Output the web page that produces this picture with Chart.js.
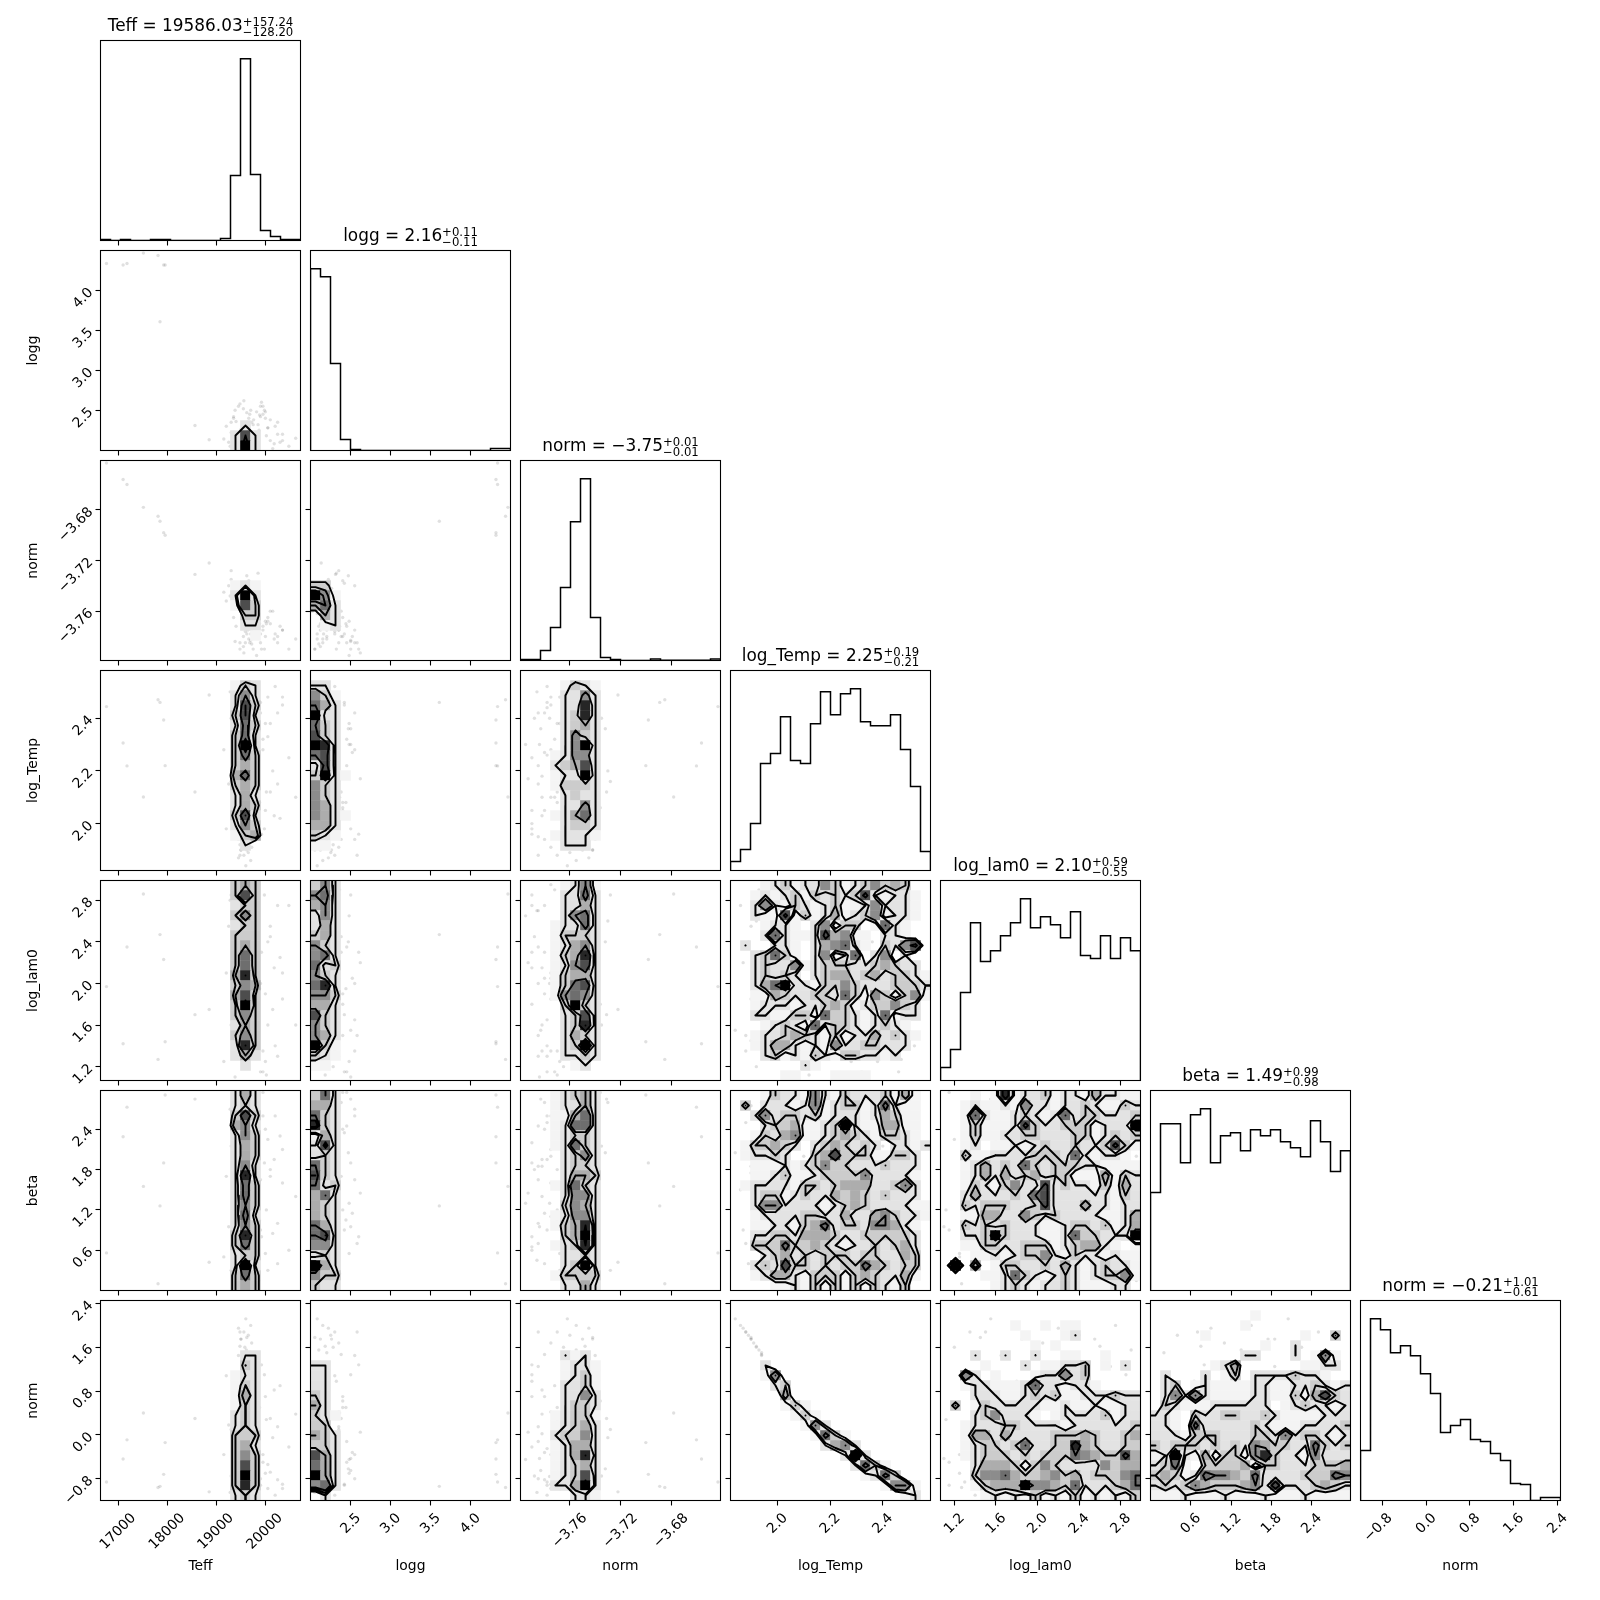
<!DOCTYPE html>
<html>
<head>
<meta charset="utf-8">
<title>corner plot</title>
<script src="https://cdn.jsdelivr.net/npm/chart.js@4"></script>
<style>
  body { margin: 0; background: #fff; }
  #wrap { position: relative; width: 1600px; height: 1600px; }
  #wrap canvas { position: absolute; }
</style>
</head>
<body>
<div id="wrap"></div>
<script>
const paramLabels = ['Teff', 'logg', 'norm', 'log_Temp', 'log_lam0', 'beta', 'norm'];
const axisMin = [16628, 1.996, -3.799, 1.822, 1.067, 0.0, -1.198];
const axisMax = [20718, 4.502, -3.641, 2.581, 2.99, 2.978, 2.455];

const titleMain = ['Teff = 19586.03', 'logg = 2.16', 'norm = \u22123.75', 'log_Temp = 2.25', 'log_lam0 = 2.10', 'beta = 1.49', 'norm = \u22120.21'];
const titleUp = ['+157.24', '+0.11', '+0.01', '+0.19', '+0.59', '+0.99', '+1.01'];
const titleDown = ['\u2212128.20', '\u22120.11', '\u22120.01', '\u22120.21', '\u22120.55', '\u22120.98', '\u22120.61'];

const tickTeff = [17000, 18000, 19000, 20000];
const tickLogg = [2.5, 3.0, 3.5, 4.0];
const tickNorm = [-3.76, -3.72, -3.68];
const tickTemp = [2.0, 2.2, 2.4];
const tickLam = [1.2, 1.6, 2.0, 2.4, 2.8];
const tickBeta = [0.6, 1.2, 1.8, 2.4];
const tickNorm2 = [-0.8, 0.0, 0.8, 1.6, 2.4];
const tickValues = [tickTeff, tickLogg, tickNorm, tickTemp, tickLam, tickBeta, tickNorm2];
const tickLabels = [
  ['17000', '18000', '19000', '20000'],
  ['2.5', '3.0', '3.5', '4.0'],
  ['\u22123.76', '\u22123.72', '\u22123.68'],
  ['2.0', '2.2', '2.4'],
  ['1.2', '1.6', '2.0', '2.4', '2.8'],
  ['0.6', '1.2', '1.8', '2.4'],
  ['\u22120.8', '0.0', '0.8', '1.6', '2.4']
];

// histograms on the diagonal, 20 bins each
const histTeff = [1, 0, 1, 0, 0, 1, 1, 0, 0, 0, 0, 0, 2, 65, 182, 66, 10, 4, 1, 1];
const histLogg = [182, 174, 87, 11, 1, 0, 0, 0, 0, 0, 0, 0, 0, 0, 0, 0, 0, 0, 2, 2];
const histNorm = [1, 1, 10, 33, 73, 139, 182, 43, 3, 1, 0, 0, 0, 1.5, 0.3, 0.3, 0.3, 0.3, 0.3, 1.5];
const histTemp = [9, 21, 47, 107, 117, 154, 110, 107, 147, 179, 156, 177, 182, 149, 145, 145, 156, 121, 84, 19];
const histLam = [13, 31, 88, 158, 119, 130, 145, 158, 182, 153, 164, 156, 143, 169, 125, 122, 145, 122, 143, 130];
const histBeta = [98, 167, 167, 128, 176, 182, 128, 155, 158, 140, 161, 155, 161, 149, 143, 134, 170, 149, 119, 140];
const histNorm2 = [50, 182, 171, 148, 155, 145, 127, 107, 68, 75, 81, 61, 59, 47, 40, 17, 16, 0, 3, 3];
const histograms = [histTeff, histLogg, histNorm, histTemp, histLam, histBeta, histNorm2];

// faint samples, same draw across every panel
const sampleTeff = [16750, 17090, 17170, 17505, 17805, 17845, 17920, 17950, 18850, 18560, 19600, 19450, 19700, 19560, 19650, 19500, 19620, 19720, 19480, 19580, 19610, 19530, 19760, 20000, 20100, 20250, 20350, 20480, 20620, 19950, 20050, 19980, 20150, 19900, 20200, 20300, 19870, 20020, 19250, 19300, 19200, 19150, 19280, 19350, 19680, 19750, 19820, 19900, 19640, 19700, 19590, 19620, 19550, 19660, 19480, 20100, 19950, 20250, 19880, 20050, 19920, 20350, 19850, 20000, 20180, 19300, 19350, 19550, 19480, 19620, 19400, 19700, 19560, 19660, 19500, 19380, 19720, 19450, 19590];
const sampleLogg = [4.34, 4.32, 4.34, 4.47, 4.44, 3.61, 4.32, 4.32, 2.13, 2.31, 2.08, 2.22, 2.15, 2.3, 2.25, 2.12, 2.05, 2.35, 2.18, 2.28, 2.1, 2.2, 2.38, 2.4, 2.12, 2.35, 2.2, 2.05, 2.15, 2.45, 2.28, 2.5, 2.02, 2.55, 2.3, 2.1, 2.25, 2.18, 2.1, 2.22, 2.3, 2.14, 2.05, 2.4, 2.45, 2.32, 2.48, 2.42, 2.35, 2.5, 2.15, 2.08, 2.12, 2.2, 2.05, 2.38, 2.55, 2.2, 2.44, 2.28, 2.6, 2.12, 2.32, 2.48, 2.08, 2.35, 2.42, 2.52, 2.58, 2.47, 2.36, 2.16, 2.62, 2.4, 2.26, 2.5, 2.1, 2.55, 2.3];
const sampleNorm = [-3.643, -3.656, -3.66, -3.678, -3.685, -3.689, -3.698, -3.7, -3.722, -3.731, -3.762, -3.745, -3.755, -3.77, -3.76, -3.75, -3.742, -3.775, -3.748, -3.765, -3.755, -3.758, -3.78, -3.78, -3.77, -3.785, -3.775, -3.79, -3.782, -3.772, -3.768, -3.79, -3.76, -3.785, -3.778, -3.772, -3.762, -3.77, -3.74, -3.735, -3.752, -3.745, -3.748, -3.765, -3.785, -3.79, -3.795, -3.778, -3.775, -3.783, -3.785, -3.778, -3.788, -3.782, -3.79, -3.76, -3.775, -3.78, -3.77, -3.765, -3.79, -3.775, -3.73, -3.768, -3.782, -3.728, -3.738, -3.78, -3.785, -3.732, -3.772, -3.778, -3.793, -3.736, -3.742, -3.784, -3.786, -3.74, -3.776];
const sampleTemp = [2.444, 2.306, 2.219, 2.101, 2.47, 2.46, 2.393, 2.22, 2.488, 2.12, 1.84, 1.87, 1.86, 1.88, 1.89, 1.9, 1.9, 1.91, 1.92, 1.92, 1.93, 1.94, 1.94, 2.05, 2.38, 2.15, 2.45, 2.25, 2.1, 2.32, 2.48, 1.98, 2.2, 2.42, 2.52, 2.02, 2.35, 2.12, 2.15, 2.4, 1.98, 2.28, 2.5, 2.08, 2.22, 2.0, 2.3, 2.46, 2.1, 2.36, 1.95, 2.26, 2.4, 2.18, 2.05, 2.12, 2.28, 2.42, 2.08, 2.33, 1.96, 2.48, 2.2, 2.38, 2.03, 2.16, 2.45, 2.27, 1.88, 2.36, 2.1, 2.44, 2.17, 2.06, 1.9, 2.3, 2.5, 1.94, 2.4];
const sampleLam = [1.97, 1.42, 2.35, 2.86, 1.27, 2.47, 2.23, 1.44, 1.75, 1.7, 1.55, 2.2, 2.75, 1.35, 2.4, 1.85, 1.45, 2.05, 2.6, 1.2, 2.9, 1.7, 2.3, 1.9, 2.55, 1.3, 2.1, 2.75, 1.6, 1.15, 2.4, 2.85, 1.75, 2.0, 1.4, 2.25, 2.95, 1.12, 2.55, 1.6, 2.1, 1.25, 2.8, 1.5, 2.35, 1.8, 2.65, 1.15, 2.95, 1.55, 2.7, 1.65, 2.45, 1.35, 2.15, 2.45, 1.35, 2.75, 1.95, 1.6, 2.3, 1.85, 2.6, 1.25, 2.15, 2.85, 1.7, 2.05, 1.5, 2.4, 2.9, 1.3, 2.2, 1.8, 2.55, 1.1, 2.7, 1.65, 2.0];
const sampleBeta = [0.56, 2.29, 2.73, 1.55, 0.1, 1.26, 1.9, 2.91, 0.42, 2.85, 2.05, 0.9, 1.5, 2.5, 0.4, 1.75, 2.75, 1.1, 0.75, 2.25, 1.35, 0.2, 2.8, 2.4, 1.8, 1.0, 2.1, 0.6, 1.4, 2.95, 0.3, 1.9, 0.85, 1.65, 2.6, 2.3, 0.15, 1.2, 0.95, 2.15, 1.7, 0.5, 2.7, 1.2, 2.45, 0.65, 1.3, 0.9, 2.0, 2.85, 1.85, 1.95, 1.8, 1.85, 2.2, 1.7, 2.6, 0.4, 1.05, 2.25, 0.8, 1.6, 2.8, 0.55, 1.95, 0.3, 2.35, 1.15, 0.7, 2.05, 0.25, 2.5, 1.45, 2.95, 1.85, 0.95, 0.45, 2.7, 1.3];
const sampleNorm2 = [-0.86, -0.44, -0.09, 0.4, -0.96, -0.94, -0.72, -0.14, -1.04, 0.3, 2.12, 1.95, 2.0, 1.88, 1.82, 1.75, 1.78, 1.68, 1.62, 1.6, 1.55, 1.5, 1.47, 0.7, -0.68, 0.15, -0.9, -0.22, 0.38, -0.5, -0.98, 1.1, -0.05, -0.8, -1.1, 0.9, -0.58, 0.28, 0.18, -0.75, 1.08, -0.36, -1.05, 0.5, -0.12, 0.98, -0.45, -0.92, 0.42, -0.65, 1.25, -0.25, -0.75, 0.02, 0.7, 0.3, -0.36, -0.82, 0.5, -0.54, 1.28, -0.98, -0.05, -0.7, 0.82, 0.1, -0.9, -0.32, 1.88, -0.62, 0.4, -0.86, 0.05, 0.62, 1.75, -0.43, -1.05, 1.45, -0.76];
const samples = [sampleTeff, sampleLogg, sampleNorm, sampleTemp, sampleLam, sampleBeta, sampleNorm2];

// 2d density per panel, top row first, 0 = empty .. 9 = densest bin
const gridLoggTeff = ['', '', '', '', '', '', '', '', '', '', '', '', '', '', '', '', '', '00000000000000200', '00000000000002720', '00000000000002920'];
const gridNormTeff = ['', '', '', '', '', '', '', '', '', '', '', '', '00000000000001210', '00000000000002920', '00000000000001730', '00000000000000330', '00000000000000220', '00000000000000010', '', ''];
const gridTempTeff = ['', '00000000000001320', '00000000000002520', '00000000000002730', '00000000000003720', '00000000000002630', '00000000000003620', '00000000000003920', '00000000000003630', '00000000000003430', '00000000000004630', '00000000000003430', '00000000000002420', '00000000000002430', '00000000000003720', '00000000000002530', '00000000000001340', '00000000000000200', '', ''];
const gridLamTeff = ['00000000000003430', '00000000000003730', '00000000000002330', '00000000000003530', '00000000000002330', '00000000000003330', '00000000000003430', '00000000000003630', '00000000000003630', '00000000000004830', '00000000000003540', '00000000000004730', '00000000000003930', '00000000000003530', '00000000000002430', '00000000000003530', '00000000000002830', '00000000000002420', '00000000000000200', ''];
const gridBetaTeff = ['00000000000002420', '00000000000002320', '00000000000003730', '00000000000004520', '00000000000002530', '00000000000002430', '00000000000002430', '00000000000002520', '00000000000002820', '00000000000002630', '00000000000002630', '00000000000002530', '00000000000002620', '00000000000002530', '00000000000003830', '00000000000003630', '00000000000002330', '00000000000002920', '00000000000003630', '00000000000003430'];
const gridNorm2Teff = ['', '', '', '', '', '00000000000000220', '00000000000000320', '00000000000001220', '00000000000001320', '00000000000001420', '00000000000001320', '00000000000002320', '00000000000002320', '00000000000003330', '00000000000003420', '00000000000003530', '00000000000003730', '00000000000003930', '00000000000003830', '00000000000002320'];

const gridNormLogg = ['', '', '', '', '', '', '', '', '', '', '', '', '33', '951', '462', '042', '012', '', '', ''];
const gridTempLogg = ['', '22', '531', '642', '922', '632', '732', '982', '672', '272', '3921', '532', '532', '542', '5421', '442', '321', '11', '', ''];
const gridLamLogg = ['352', '562', '452', '252', '242', '342', '532', '562', '623', '532', '682', '553', '442', '732', '532', '542', '931', '321', '11', ''];
const gridBetaLogg = ['362', '442', '632', '832', '142', '272', '232', '632', '732', '623', '462', '432', '432', '642', '672', '552', '232', '942', '533', '322'];
const gridNorm2Logg = ['', '', '', '', '', '', '22', '22', '22', '32', '42', '321', '33', '432', '332', '742', '642', '942', '562', '02'];

const gridTempNorm = ['', '00001321', '00002252', '00002282', '00002382', '00002342', '00002532', '00002592', '00012552', '00023472', '00012292', '00013332', '00002322', '00002252', '00012462', '00002332', '00012221', '00002220', '', ''];
const gridLamNorm = ['00001251', '00002262', '00002242', '00002562', '00012262', '00013332', '00012452', '00013482', '00012572', '00013442', '00013672', '00015652', '00003932', '00002372', '00002382', '00002432', '00002392', '00002232', '00000120', ''];
const gridBetaNorm = ['00012342', '00012242', '00011462', '00012662', '00012332', '00012632', '00002352', '00002332', '00002443', '00012632', '00002552', '00003542', '00012552', '00013482', '00003492', '00012382', '00002232', '00002392', '00013333', '00002242'];
const gridNorm2Norm = ['', '', '', '', '', '00002120', '00001221', '00001231', '00002231', '00002252', '00002332', '00012331', '00012342', '00023352', '00012442', '00012482', '00012342', '00012372', '00022492', '00000221'];

const gridLamTemp = ['00012312253123534300', '00121231323237212210', '00252132123112522210', '00211713124123512210', '00012210251330162100', '00026211274511022100', '02002210245621032570', '00236310251260250200', '00232251233322343220', '00232320234423423321', '00246922133532223332', '00114322332631531351', '00122212234312335320', '00221133163321261220', '00012321623321232100', '00122343213122423210', '00124421215223322200', '00023121321332212000', '00000002100000000000', '00000110001111000000'];
const gridBetaTemp = ['00013221521322231410', '03022212512331262110', '00252332312221243110', '00023341123921144110', '00132451123432133210', '01334320234323202212', '01223200347333113320', '00111212353322232220', '00112311233335222210', '01222213323444223520', '00233123224343232220', '00255222212343222211', '00122223322422453221', '00112213462332554210', '00223324443223333320', '00333633432122323420', '00023423233323322430', '00232733232336432330', '00124421333134322410', '00001121313131321300'];
const gridNorm2Temp = ['', '', '', '', '', '', '0002', '00015', '000023', '000004', '0000013100', '00000013100', '00000001520', '0000000016310', '00000000024520', '00000000000292', '000000000000263100', '00000000000001263', '00000000000000015510', '00000000000000000120'];
const gridBetaLam = ['00010181223122142211', '00121121522122321132', '00162112321262332223', '00131112732233312229', '00131122332223312323', '00120112123223223731', '00311222233326212210', '00124232632333221111', '00124242342331114132', '00132135227232213142', '00242223267222222132', '00323332237222422122', '00114422532322221124', '00323232221123323124', '00223932221126332229', '00113322333123442101', '00011212335213221211', '09040133223242123221', '00001126321232123351', '00000123212232111220'];
const gridNorm2Lam = ['', '', '00000001001011000000', '00000000100012000000', '00000000010100000000', '00020020020011001000', '00001000201122301020', '00520100012252300000', '00122111262212210000', '00022211232311222322', '03013222221121121122', '00023522210122223122', '00122233222212222223', '00144242222333432234', '00123323622338432233', '00123332323336543374', '00024443135322225344', '00035564334534233356', '00013444955436222346', '00001212131213121213'];
const gridNorm2Beta = ['', '00000000001000000000', '00000000010000000000', '00000100000000010030', '00000000000100200000', '00000000022000201510', '00000012400000011220', '02000201302222322100', '02301211112211223212', '02525211112211314732', '03211122222201232212', '22103223322321111222', '22106222223211122223', '22213332223325233212', '32333232325433226323', '12921413315832215222', '23610333341332223334', '34312655436222233365', '23235433345272223432', '11121112111211121111'];

const panelGrids = {
  '1,0': gridLoggTeff, '2,0': gridNormTeff, '3,0': gridTempTeff, '4,0': gridLamTeff, '5,0': gridBetaTeff, '6,0': gridNorm2Teff,
  '2,1': gridNormLogg, '3,1': gridTempLogg, '4,1': gridLamLogg, '5,1': gridBetaLogg, '6,1': gridNorm2Logg,
  '3,2': gridTempNorm, '4,2': gridLamNorm, '5,2': gridBetaNorm, '6,2': gridNorm2Norm,
  '4,3': gridLamTemp, '5,3': gridBetaTemp, '6,3': gridNorm2Temp,
  '5,4': gridBetaLam, '6,4': gridNorm2Lam,
  '6,5': gridNorm2Beta
};
const contourFractions = [0.118, 0.393, 0.675, 0.865];
// grey per density step, pale at the low end
const densityGrey = [1, 0.955, 0.89, 0.8, 0.68, 0.55, 0.43, 0.3, 0.15, 0];

Chart.defaults.font.family = '"DejaVu Sans"';
Chart.defaults.color = '#000';

const BINS = 20;
const labelShift = [15, 8, 15, 8, 8, 8, 8];

function parseGrid(rows) {
  return rows.map(r => r.padEnd(BINS, '0').split('').map(Number));
}

// same recipe corner uses: density thresholds enclosing the given mass
function levelsFor(H) {
  const flat = H.flat().sort((a, b) => b - a);
  const total = flat.reduce((a, b) => a + b, 0);
  let sum = 0;
  const cum = flat.map(v => (sum += v));
  const out = contourFractions.map(f => {
    let last = flat[0];
    cum.forEach((c, k) => { if (c <= f * total) last = flat[k]; });
    return last;
  });
  out.sort((a, b) => a - b);
  for (let k = out.length - 2; k >= 0; k--) {
    if (out[k] >= out[k + 1]) out[k] = out[k + 1] * (1 - 1e-2);
  }
  return out;
}

function padGrid(H) {
  const n = BINS + 4;
  const P = [];
  for (let r = 0; r < n; r++) {
    P.push(new Array(n).fill(0));
    if (r === 0 || r === n - 1) continue;
    const sr = Math.min(BINS - 1, Math.max(0, r - 2));
    for (let c = 1; c < n - 1; c++) {
      P[r][c] = H[sr][Math.min(BINS - 1, Math.max(0, c - 2))];
    }
  }
  return P;
}

function contourData(H, xmin, xmax, ymin, ymax) {
  const P = padGrid(H);
  const dx = (xmax - xmin) / BINS, dy = (ymax - ymin) / BINS;
  const px = c => xmin + (c - 1.5) * dx;
  const py = r => ymax - (r - 1.5) * dy;
  const pts = [];
  const gap = { x: NaN, y: NaN };
  levelsFor(H).forEach(L => {
    for (let r = 0; r < P.length - 1; r++) {
      for (let c = 0; c < P.length - 1; c++) {
        const a = P[r][c], b = P[r][c + 1], e = P[r + 1][c + 1], d = P[r + 1][c];
        const cross = (v1, v2) => (v1 >= L) !== (v2 >= L);
        const t = (v1, v2) => (L - v1) / (v2 - v1);
        const top = cross(a, b) ? { x: px(c + t(a, b)), y: py(r) } : null;
        const right = cross(b, e) ? { x: px(c + 1), y: py(r + t(b, e)) } : null;
        const bottom = cross(d, e) ? { x: px(c + t(d, e)), y: py(r + 1) } : null;
        const left = cross(a, d) ? { x: px(c), y: py(r + t(a, d)) } : null;
        const hits = [top, right, bottom, left].filter(Boolean);
        if (hits.length === 2) {
          pts.push(hits[0], hits[1], gap);
        } else if (hits.length === 4) {
          const mid = (a + b + e + d) / 4;
          if ((mid >= L) === (a >= L)) pts.push(top, right, gap, bottom, left, gap);
          else pts.push(top, left, gap, right, bottom, gap);
        }
      }
    }
  });
  return pts;
}

function cellData(H, xmin, xmax, ymin, ymax) {
  const dx = (xmax - xmin) / BINS, dy = (ymax - ymin) / BINS;
  const cells = [], colors = [];
  H.forEach((row, r) => row.forEach((v, c) => {
    if (!v) return;
    cells.push({ x: xmin + (c + 0.5) * dx, y: [ymax - (r + 1) * dy, ymax - r * dy] });
    const g = Math.round(255 * densityGrey[v]);
    colors.push(`rgb(${g},${g},${g})`);
  }));
  return { cells, colors };
}

const panelFrame = {
  id: 'panelFrame',
  afterDatasetsDraw(chart) {
    const a = chart.chartArea, ctx = chart.ctx;
    ctx.save();
    ctx.strokeStyle = '#000';
    ctx.lineWidth = 1.1;
    ctx.strokeRect(a.left, a.top, a.width, a.height);
    ctx.restore();
  }
};

const diagTitle = {
  id: 'diagTitle',
  afterDraw(chart, args, opts) {
    if (opts.index === undefined) return;
    const a = chart.chartArea, ctx = chart.ctx;
    const k = opts.index;
    ctx.save();
    ctx.fillStyle = '#000';
    ctx.textBaseline = 'alphabetic';
    ctx.textAlign = 'left';
    ctx.font = '16.9px "DejaVu Sans"';
    const w1 = ctx.measureText(titleMain[k]).width;
    ctx.font = '11.67px "DejaVu Sans"';
    const w2 = Math.max(ctx.measureText(titleUp[k]).width, ctx.measureText(titleDown[k]).width);
    const x0 = (a.left + a.right) / 2 - (w1 + w2) / 2;
    ctx.font = '16.9px "DejaVu Sans"';
    ctx.fillText(titleMain[k], x0, a.top - 9.5);
    ctx.font = '11.67px "DejaVu Sans"';
    ctx.fillText(titleUp[k], x0 + w1, a.top - 15);
    ctx.fillText(titleDown[k], x0 + w1, a.top - 5);
    ctx.restore();
  }
};

function axisOptions(k, axis, showTicks, showLabels, showTitle, size) {
  return {
    type: 'linear',
    min: axisMin[k],
    max: axisMax[k],
    bounds: 'data',
    offset: false,
    grid: { offset: false, drawOnChartArea: false, drawTicks: true, tickLength: 5, tickColor: '#000', tickWidth: 1.1 },
    border: { display: false },
    afterBuildTicks: s => { s.ticks = showTicks ? tickValues[k].map(v => ({ value: v })) : []; },
    afterFit: s => {
      if (axis === 'x') s.height = size; else s.width = size;
      s.paddingLeft = s.paddingRight = s.paddingTop = s.paddingBottom = 0;
    },
    ticks: {
      display: showLabels,
      autoSkip: false,
      minRotation: 45,
      maxRotation: 45,
      padding: 4.5,
      labelOffset: axis === 'x' ? labelShift[k] : 0,
      font: { size: 13.9 },
      color: '#000',
      callback: (v, idx) => tickLabels[k][idx]
    },
    title: {
      display: showTitle,
      text: paramLabels[k],
      padding: axis === 'x' ? 0 : { top: 3, bottom: 3 },
      color: '#000',
      font: { size: 13.9 }
    }
  };
}

function makePanel(i, j) {
  const canvas = document.createElement('canvas');
  canvas.width = 309;
  canvas.height = 315;
  canvas.style.left = (22 + 210 * j) + 'px';
  canvas.style.top = (210 * i) + 'px';
  canvas.style.width = '309px';
  canvas.style.height = '315px';
  document.getElementById('wrap').appendChild(canvas);

  const datasets = [];
  let yAxis;
  if (i === j) {
    const n = histograms[i];
    const dx = (axisMax[i] - axisMin[i]) / BINS;
    const line = [{ x: axisMin[i], y: 0 }];
    n.forEach((v, b) => line.push({ x: axisMin[i] + (b + 1) * dx, y: v }));
    line.push({ x: axisMax[i], y: 0 });
    datasets.push({
      type: 'scatter', data: line, showLine: true, stepped: 'after',
      borderColor: '#000', borderWidth: 1.5, pointRadius: 0, order: 1
    });
    yAxis = axisOptions(i, 'y', false, false, false, 78.5);
    yAxis.min = 0;
    yAxis.max = Math.max(...n) * 1.1;
    yAxis.grid.display = false;
  } else {
    const H = parseGrid(panelGrids[i + ',' + j].concat(new Array(BINS).fill('')).slice(0, BINS));
    const { cells, colors } = cellData(H, axisMin[j], axisMax[j], axisMin[i], axisMax[i]);
    datasets.push({
      type: 'scatter',
      data: samples[j].map((v, s) => ({ x: v, y: samples[i][s] })),
      pointRadius: 1.7, borderWidth: 0,
      backgroundColor: 'rgba(0,0,0,0.12)', order: 3
    });
    datasets.push({
      type: 'bar', data: cells, backgroundColor: colors,
      barThickness: 10, borderWidth: 0, order: 2
    });
    datasets.push({
      type: 'scatter', data: contourData(H, axisMin[j], axisMax[j], axisMin[i], axisMax[i]),
      showLine: true, borderColor: '#000', borderWidth: 1.9, pointRadius: 0,
      borderCapStyle: 'round', borderJoinStyle: 'round', order: 1
    });
    yAxis = axisOptions(i, 'y', true, j === 0, j === 0, 78.5);
  }

  new Chart(canvas, {
    type: 'scatter',
    data: { datasets },
    plugins: [panelFrame, diagTitle],
    options: {
      responsive: false,
      animation: false,
      events: [],
      layout: { padding: { top: 40.5, right: 30.5, left: 0, bottom: 0 } },
      plugins: {
        legend: { display: false },
        tooltip: { enabled: false },
        diagTitle: i === j ? { index: i } : {}
      },
      scales: {
        x: axisOptions(j, 'x', true, i === 6, i === 6, 74.5),
        y: yAxis
      }
    }
  });
}

for (let i = 0; i < 7; i++) {
  for (let j = 0; j <= i; j++) makePanel(i, j);
}
</script>
</body>
</html>
